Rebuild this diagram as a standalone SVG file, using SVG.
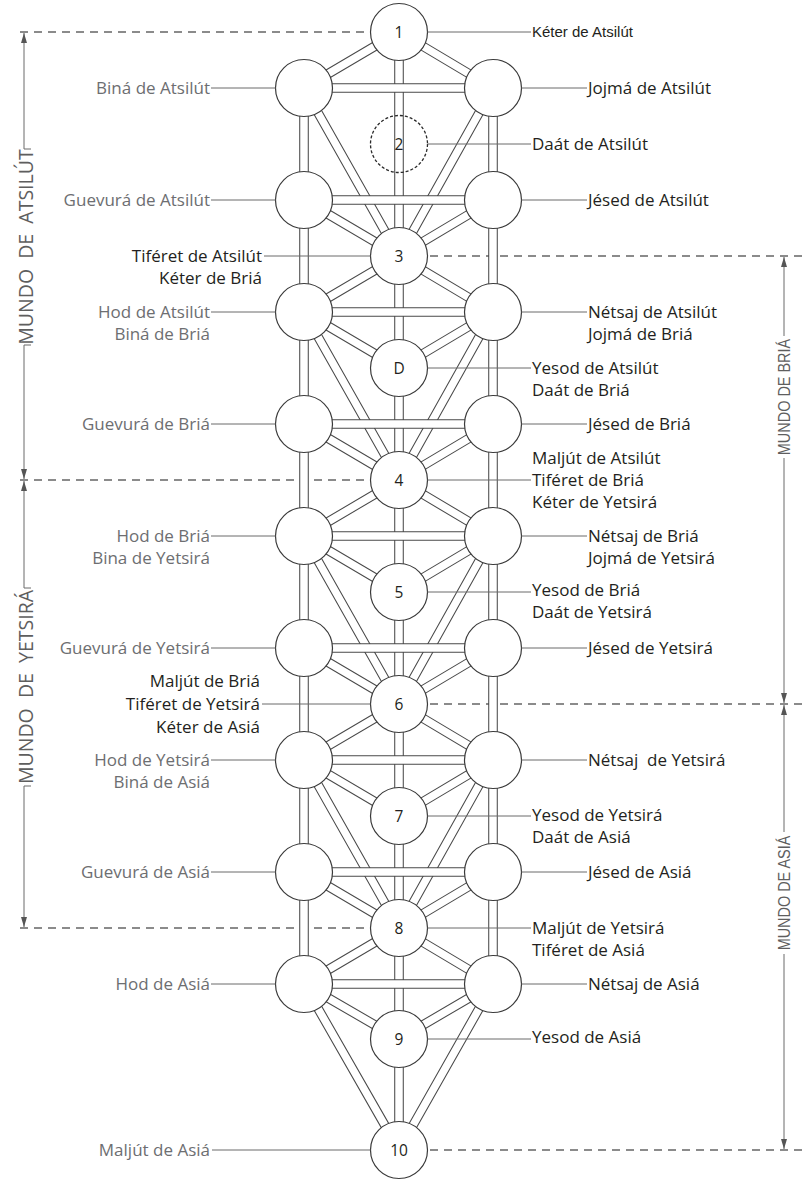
<svg xmlns="http://www.w3.org/2000/svg" xmlns:xlink="http://www.w3.org/1999/xlink" width="802" height="1184" viewBox="0 0 802 1184">
<style>
.ch-o{fill:none;stroke:#4a4a4a;stroke-width:9.6;stroke-linecap:butt}
.ch-i{fill:none;stroke:#ffffff;stroke-width:7.5;stroke-linecap:butt}
.node{fill:#ffffff;stroke:#3a3a3a;stroke-width:1.2}
.dnode{fill:none;stroke:#2a2a2a;stroke-width:1.3;stroke-dasharray:3 2}
.num{font-family:"Open Sans","Noto Sans",sans-serif;font-size:15.5px;fill:#231f20;text-anchor:middle}
.lead{stroke:#6a6a6a;stroke-width:1;fill:none}
.lbl{font-family:"Open Sans","Noto Sans",sans-serif;font-size:17px}
.dk{fill:#231f20}
.gr{fill:#6d6e71}
.end{text-anchor:end}
.kt{font-family:"Liberation Sans",Arial,sans-serif;font-size:15px;fill:#231f20}
.dash{stroke:#666;stroke-width:1.3;stroke-dasharray:8 6;fill:none}
.dim{stroke:#6a6a6a;stroke-width:1;fill:none}
.wl{font-family:"Open Sans","Noto Sans",sans-serif;font-size:19.5px;fill:#5e5e5e;text-anchor:middle;white-space:pre}
.wr{font-family:"Liberation Sans",Arial,sans-serif;font-size:17px;fill:#5e5e5e;text-anchor:middle}
</style>
<defs>
<marker id="arr" viewBox="0 0 10 6" refX="10" refY="3" markerWidth="10" markerHeight="6" markerUnits="userSpaceOnUse" orient="auto-start-reverse">
<path d="M0,0 L10,3 L0,6 z" fill="#555"/>
</marker>
<path id="longd" d="M304,88 L399,256 M493,88 L399,256 M304,312 L399,480 M493,312 L399,480 M304,536 L399,704 M493,536 L399,704 M304,760 L399,928 M493,760 L399,928 M304,984 L399,1150 M493,984 L399,1150"/>
<path id="shortd" d="M399,32 L304,88 M399,32 L493,88 M304,200 L399,256 M493,200 L399,256 M399,256 L304,312 M399,256 L493,312 M304,312 L399,368 M493,312 L399,368 M304,424 L399,480 M493,424 L399,480 M399,480 L304,536 M399,480 L493,536 M304,536 L399,592 M493,536 L399,592 M304,648 L399,704 M493,648 L399,704 M399,704 L304,760 M399,704 L493,760 M304,760 L399,816 M493,760 L399,816 M304,872 L399,928 M493,872 L399,928 M399,928 L304,984 M399,928 L493,984 M304,984 L399,1039 M493,984 L399,1039"/>
<path id="vert" d="M304,88 L304,984 M493,88 L493,984 M399,32 L399,1150"/>
<path id="horiz" d="M304,88 H493 M304,200 H493 M304,312 H493 M304,424 H493 M304,536 H493 M304,648 H493 M304,760 H493 M304,872 H493 M304,984 H493"/>
</defs>
<rect width="802" height="1184" fill="#ffffff"/>

<g id="world-boundaries">
<path class="dash" d="M20,32 H368 M20,480 H368 M20,928 H368 M430,256 H802 M430,704 H802 M430,1150 H802"/>
<path class="dim" d="M24,33 V149" marker-start="url(#arr)"/>
<path class="dim" d="M24,149 H31 M24,345 H31"/>
<path class="dim" d="M24,345 V479" marker-end="url(#arr)"/>
<text class="wl" transform="translate(32.5,247) rotate(-90)">MUNDO  DE  ATSILÚT</text>
<path class="dim" d="M24,481 V588" marker-start="url(#arr)"/>
<path class="dim" d="M24,588 H31 M24,786 H31"/>
<path class="dim" d="M24,786 V927" marker-end="url(#arr)"/>
<text class="wl" transform="translate(32.5,687) rotate(-90)">MUNDO  DE  YETSIRÁ</text>
<path class="dim" d="M784,257 V336" marker-start="url(#arr)"/>
<path class="dim" d="M784,458 V703" marker-end="url(#arr)"/>
<text class="wr" transform="translate(790,397) rotate(-90) scale(0.85,1)">MUNDO DE BRIÁ</text>
<path class="dim" d="M784,705 V832" marker-start="url(#arr)"/>
<path class="dim" d="M784,954 V1149" marker-end="url(#arr)"/>
<text class="wr" transform="translate(790,893) rotate(-90) scale(0.85,1)">MUNDO DE ASIÁ</text>
</g>

<g id="connectors">
<use href="#longd" class="ch-o"/><use href="#longd" class="ch-i"/>
<use href="#shortd" class="ch-o"/><use href="#shortd" class="ch-i"/>
<use href="#vert" class="ch-o"/><use href="#vert" class="ch-i"/>
<use href="#horiz" class="ch-o"/><use href="#horiz" class="ch-i"/>
</g>

<g id="node-1">
<circle class="node" cx="399" cy="32" r="28.5"/>
<text class="num" x="399" y="37.5">1</text>
<path class="lead" d="M427.5,32 H531"/>
<text class="kt" x="532" y="37">Kéter de Atsilút</text>
</g>
<g id="node-bina-atsilut">
<circle class="node" cx="304" cy="88" r="28.5"/>
<path class="lead" d="M211,88 H275.5"/>
<text class="lbl gr end" x="210" y="94">Biná de Atsilút</text>
</g>
<g id="node-jojma-atsilut">
<circle class="node" cx="493" cy="88" r="28.5"/>
<path class="lead" d="M521.5,88 H587"/>
<text class="lbl dk" x="588" y="94">Jojmá de Atsilút</text>
</g>
<g id="node-2">
<circle class="dnode" cx="399" cy="144" r="28.5"/>
<text class="num" x="399" y="149.5">2</text>
<path class="lead" d="M427.5,144 H531"/>
<text class="lbl dk" x="532" y="150">Daát de Atsilút</text>
</g>
<g id="node-guevura-atsilut">
<circle class="node" cx="304" cy="200" r="28.5"/>
<path class="lead" d="M211,200 H275.5"/>
<text class="lbl gr end" x="210" y="206">Guevurá de Atsilút</text>
</g>
<g id="node-jesed-atsilut">
<circle class="node" cx="493" cy="200" r="28.5"/>
<path class="lead" d="M521.5,200 H587"/>
<text class="lbl dk" x="588" y="206">Jésed de Atsilút</text>
</g>
<g id="node-3">
<circle class="node" cx="399" cy="256" r="28.5"/>
<text class="num" x="399" y="261.5">3</text>
<path class="lead" d="M264,256 H370.5"/>
<text class="lbl dk end" x="262" y="262">Tiféret de Atsilút</text>
<text class="lbl dk end" x="262" y="284">Kéter de Briá</text>
</g>
<g id="node-hod-atsilut">
<circle class="node" cx="304" cy="312" r="28.5"/>
<path class="lead" d="M211,312 H275.5"/>
<text class="lbl gr end" x="210" y="318">Hod de Atsilút</text>
<text class="lbl gr end" x="210" y="340">Biná de Briá</text>
</g>
<g id="node-netsaj-atsilut">
<circle class="node" cx="493" cy="312" r="28.5"/>
<path class="lead" d="M521.5,312 H587"/>
<text class="lbl dk" x="588" y="318">Nétsaj de Atsilút</text>
<text class="lbl dk" x="588" y="340">Jojmá de Briá</text>
</g>
<g id="node-D">
<circle class="node" cx="399" cy="368" r="28.5"/>
<text class="num" x="399" y="373.5">D</text>
<path class="lead" d="M427.5,368 H531"/>
<text class="lbl dk" x="532" y="374">Yesod de Atsilút</text>
<text class="lbl dk" x="532" y="396">Daát de Briá</text>
</g>
<g id="node-guevura-bria">
<circle class="node" cx="304" cy="424" r="28.5"/>
<path class="lead" d="M211,424 H275.5"/>
<text class="lbl gr end" x="210" y="430">Guevurá de Briá</text>
</g>
<g id="node-jesed-bria">
<circle class="node" cx="493" cy="424" r="28.5"/>
<path class="lead" d="M521.5,424 H587"/>
<text class="lbl dk" x="588" y="430">Jésed de Briá</text>
</g>
<g id="node-4">
<circle class="node" cx="399" cy="480" r="28.5"/>
<text class="num" x="399" y="485.5">4</text>
<path class="lead" d="M427.5,480 H531"/>
<text class="lbl dk" x="532" y="464">Maljút de Atsilút</text>
<text class="lbl dk" x="532" y="486">Tiféret de Briá</text>
<text class="lbl dk" x="532" y="508">Kéter de Yetsirá</text>
</g>
<g id="node-hod-bria">
<circle class="node" cx="304" cy="536" r="28.5"/>
<path class="lead" d="M211,536 H275.5"/>
<text class="lbl gr end" x="210" y="542">Hod de Briá</text>
<text class="lbl gr end" x="210" y="564">Bina de Yetsirá</text>
</g>
<g id="node-netsaj-bria">
<circle class="node" cx="493" cy="536" r="28.5"/>
<path class="lead" d="M521.5,536 H587"/>
<text class="lbl dk" x="588" y="542">Nétsaj de Briá</text>
<text class="lbl dk" x="588" y="564">Jojmá de Yetsirá</text>
</g>
<g id="node-5">
<circle class="node" cx="399" cy="592" r="28.5"/>
<text class="num" x="399" y="597.5">5</text>
<path class="lead" d="M427.5,592 H531"/>
<text class="lbl dk" x="532" y="596">Yesod de Briá</text>
<text class="lbl dk" x="532" y="618">Daát de Yetsirá</text>
</g>
<g id="node-guevura-yetsira">
<circle class="node" cx="304" cy="648" r="28.5"/>
<path class="lead" d="M211,648 H275.5"/>
<text class="lbl gr end" x="210" y="654">Guevurá de Yetsirá</text>
</g>
<g id="node-jesed-yetsira">
<circle class="node" cx="493" cy="648" r="28.5"/>
<path class="lead" d="M521.5,648 H587"/>
<text class="lbl dk" x="588" y="654">Jésed de Yetsirá</text>
</g>
<g id="node-6">
<circle class="node" cx="399" cy="704" r="28.5"/>
<text class="num" x="399" y="709.5">6</text>
<path class="lead" d="M262,704 H370.5"/>
<text class="lbl dk end" x="260" y="687">Maljút de Briá</text>
<text class="lbl dk end" x="260" y="710">Tiféret de Yetsirá</text>
<text class="lbl dk end" x="260" y="733">Kéter de Asiá</text>
</g>
<g id="node-hod-yetsira">
<circle class="node" cx="304" cy="760" r="28.5"/>
<path class="lead" d="M211,760 H275.5"/>
<text class="lbl gr end" x="210" y="766">Hod de Yetsirá</text>
<text class="lbl gr end" x="210" y="788">Biná de Asiá</text>
</g>
<g id="node-netsaj-yetsira">
<circle class="node" cx="493" cy="760" r="28.5"/>
<path class="lead" d="M521.5,760 H587"/>
<text class="lbl dk" x="588" y="766" style="white-space:pre">Nétsaj  de Yetsirá</text>
</g>
<g id="node-7">
<circle class="node" cx="399" cy="816" r="28.5"/>
<text class="num" x="399" y="821.5">7</text>
<path class="lead" d="M427.5,816 H531"/>
<text class="lbl dk" x="532" y="821">Yesod de Yetsirá</text>
<text class="lbl dk" x="532" y="843">Daát de Asiá</text>
</g>
<g id="node-guevura-asia">
<circle class="node" cx="304" cy="872" r="28.5"/>
<path class="lead" d="M211,872 H275.5"/>
<text class="lbl gr end" x="210" y="878">Guevurá de Asiá</text>
</g>
<g id="node-jesed-asia">
<circle class="node" cx="493" cy="872" r="28.5"/>
<path class="lead" d="M521.5,872 H587"/>
<text class="lbl dk" x="588" y="878">Jésed de Asiá</text>
</g>
<g id="node-8">
<circle class="node" cx="399" cy="928" r="28.5"/>
<text class="num" x="399" y="933.5">8</text>
<path class="lead" d="M427.5,928 H531"/>
<text class="lbl dk" x="532" y="934">Maljút de Yetsirá</text>
<text class="lbl dk" x="532" y="956">Tiféret de Asiá</text>
</g>
<g id="node-hod-asia">
<circle class="node" cx="304" cy="984" r="28.5"/>
<path class="lead" d="M211,984 H275.5"/>
<text class="lbl gr end" x="210" y="990">Hod de Asiá</text>
</g>
<g id="node-netsaj-asia">
<circle class="node" cx="493" cy="984" r="28.5"/>
<path class="lead" d="M521.5,984 H587"/>
<text class="lbl dk" x="588" y="990">Nétsaj de Asiá</text>
</g>
<g id="node-9">
<circle class="node" cx="399" cy="1039" r="28.5"/>
<text class="num" x="399" y="1044.5">9</text>
<path class="lead" d="M427.5,1039 H531"/>
<text class="lbl dk" x="532" y="1043">Yesod de Asiá</text>
</g>
<g id="node-10">
<circle class="node" cx="399" cy="1150" r="28.5"/>
<text class="num" x="399" y="1155.5">10</text>
<path class="lead" d="M212,1150 H370.5"/>
<text class="lbl gr end" x="210" y="1156">Maljút de Asiá</text>
</g>
</svg>
